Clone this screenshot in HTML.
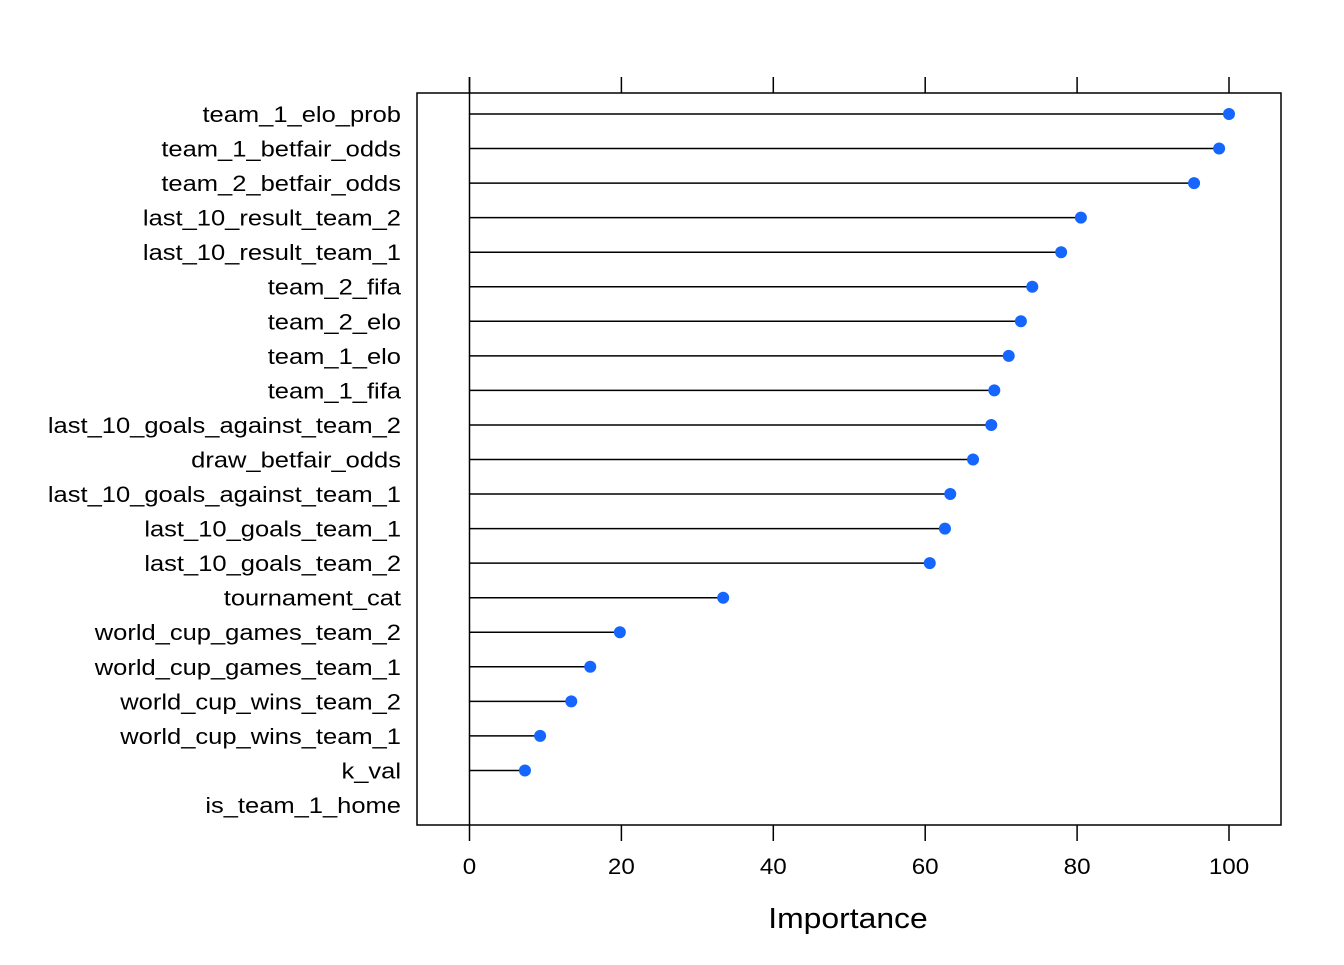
<!DOCTYPE html>
<html><head><meta charset="utf-8"><style>
body{margin:0;background:#fff}
svg text{font-family:"Liberation Sans",Arial,sans-serif;fill:#000}
</style></head><body>
<svg id="chart" width="1344" height="960" xmlns="http://www.w3.org/2000/svg">
<rect x="417" y="93" width="864" height="732" fill="none" stroke="#000" stroke-width="1.5"/>
<g id="marks"></g>
<text x="848" y="928" font-size="29" text-anchor="middle" transform="translate(848,0) scale(1.1,1) translate(-848,0)">Importance</text>
</svg>
<script>
const features=["team_1_elo_prob","team_1_betfair_odds","team_2_betfair_odds","last_10_result_team_2","last_10_result_team_1","team_2_fifa","team_2_elo","team_1_elo","team_1_fifa","last_10_goals_against_team_2","draw_betfair_odds","last_10_goals_against_team_1","last_10_goals_team_1","last_10_goals_team_2","tournament_cat","world_cup_games_team_2","world_cup_games_team_1","world_cup_wins_team_2","world_cup_wins_team_1","k_val","is_team_1_home"];
const importance=[100,98.7,95.4,80.5,77.9,74.1,72.6,71.0,69.1,68.7,66.3,63.3,62.6,60.6,33.4,19.8,15.9,13.4,9.3,7.3,0];
const ticks=[0,20,40,60,80,100];
const NS="http://www.w3.org/2000/svg";
const g=document.getElementById('marks');
const xs=v=>469.5+v*7.595;
const ys=i=>114+i*34.55;
function mk(t,a){const e=document.createElementNS(NS,t);for(const k in a)e.setAttribute(k,a[k]);g.appendChild(e);return e;}
const axis=mk('line',{x1:xs(0),x2:xs(0),y1:77,y2:825,stroke:'#000','stroke-width':1.5});


ticks.forEach(t=>{
 const a=mk('line',{x1:xs(t),x2:xs(t),y1:77,y2:93,stroke:'#000','stroke-width':1.5});
 
 
 const b=mk('line',{x1:xs(t),x2:xs(t),y1:825,y2:841,stroke:'#000','stroke-width':1.5});
 
 
 const x=xs(t);
 const l=mk('text',{x:x,y:874,'font-size':22,'text-anchor':'middle',transform:`translate(${x},0) scale(1.1,1) translate(${-x},0)`});
 l.textContent=t;
 
 
});
features.forEach((f,i)=>{
 const y=ys(i);
 const l=mk('text',{x:401,y:y+8,'font-size':22,'text-anchor':'end',transform:'translate(401,0) scale(1.16,1) translate(-401,0)'});
 l.textContent=f;
 
 
 const v=importance[i];
 if(v>0){
  const s=mk('line',{x1:xs(0),x2:xs(v),y1:y,y2:y,stroke:'#000','stroke-width':1.5});
  
  
  const c=mk('circle',{cx:xs(v),cy:y,r:6,fill:'#1565ff'});
  
  
 }
});
</script>
</body></html>
